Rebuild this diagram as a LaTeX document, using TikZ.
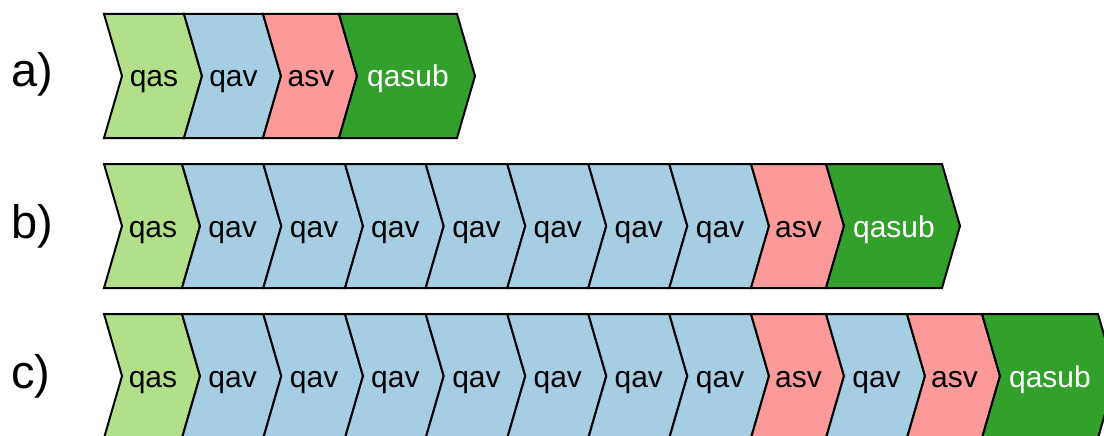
\documentclass[tikz,border=0pt]{standalone}
\usepackage{fontspec}
\setmainfont{Liberation Sans}
\definecolor{qascol}{HTML}{B2DF8A}
\definecolor{qavcol}{HTML}{A6CEE3}
\definecolor{asvcol}{HTML}{FB9A99}
\definecolor{qasubcol}{HTML}{33A02C}
\newcommand\dep{18}
\newcommand\halfh{62}
% one chevron: name, left x, right x, top y, fill, label, label colour
\newcommand\chev[7]{%
  \draw[piece, fill=#5] (#2,#4) -- (#3,#4) -- (#3+\dep,#4+\halfh)
    -- (#3,#4+2*\halfh) -- (#2,#4+2*\halfh) -- (#2+\dep,#4+\halfh) -- cycle;
  \node[lbl, text=#7] (#1) at ({(#2+#3)/2+10},#4+\halfh+11) {#6};
}
\tikzset{
  piece/.style={draw=black, line width=2pt, line join=miter},
  lbl/.style={inner sep=0pt, anchor=base, font=\fontsize{30}{36}\selectfont},
  rowlbl/.style={inner sep=0pt, anchor=base west, font=\fontsize{47}{52}\selectfont}
}
\begin{document}
\begin{tikzpicture}[x=1pt,y=-1pt]
\useasboundingbox (0,0) rectangle (1104,436);
\clip (0,0) rectangle (1104,436);
\fill[white] (0,0) rectangle (1104,436);

% row labels
\node[rowlbl] (la) at (11,87) {a)};
\node[rowlbl] (lb) at (11,238) {b)};
\node[rowlbl] (lc) at (11,388) {c)};

% row a
\chev{a1}{104}{184}{14}{qascol}{qas}{black}
\chev{a2}{184}{263}{14}{qavcol}{qav}{black}
\chev{a3}{263}{339}{14}{asvcol}{asv}{black}
\chev{a4}{339}{457}{14}{qasubcol}{qasub}{white}

% row b
\chev{b1}{104}{182}{164}{qascol}{qas}{black}
\chev{b2}{182}{263.3}{164}{qavcol}{qav}{black}
\chev{b3}{263.3}{345}{164}{qavcol}{qav}{black}
\chev{b4}{345}{425.7}{164}{qavcol}{qav}{black}
\chev{b5}{425.7}{507.3}{164}{qavcol}{qav}{black}
\chev{b6}{507.3}{588.3}{164}{qavcol}{qav}{black}
\chev{b7}{588.3}{669.3}{164}{qavcol}{qav}{black}
\chev{b8}{669.3}{751}{164}{qavcol}{qav}{black}
\chev{b9}{751}{826}{164}{asvcol}{asv}{black}
\chev{b10}{826}{942}{164}{qasubcol}{qasub}{white}

% row c
\chev{c1}{104}{182}{314}{qascol}{qas}{black}
\chev{c2}{182}{263.3}{314}{qavcol}{qav}{black}
\chev{c3}{263.3}{345}{314}{qavcol}{qav}{black}
\chev{c4}{345}{425.7}{314}{qavcol}{qav}{black}
\chev{c5}{425.7}{507.3}{314}{qavcol}{qav}{black}
\chev{c6}{507.3}{588.3}{314}{qavcol}{qav}{black}
\chev{c7}{588.3}{669.3}{314}{qavcol}{qav}{black}
\chev{c8}{669.3}{751}{314}{qavcol}{qav}{black}
\chev{c9}{751}{826}{314}{asvcol}{asv}{black}
\chev{c10}{826}{907}{314}{qavcol}{qav}{black}
\chev{c11}{907}{982}{314}{asvcol}{asv}{black}
\chev{c12}{982}{1098}{314}{qasubcol}{qasub}{white}
\end{tikzpicture}
\end{document}
